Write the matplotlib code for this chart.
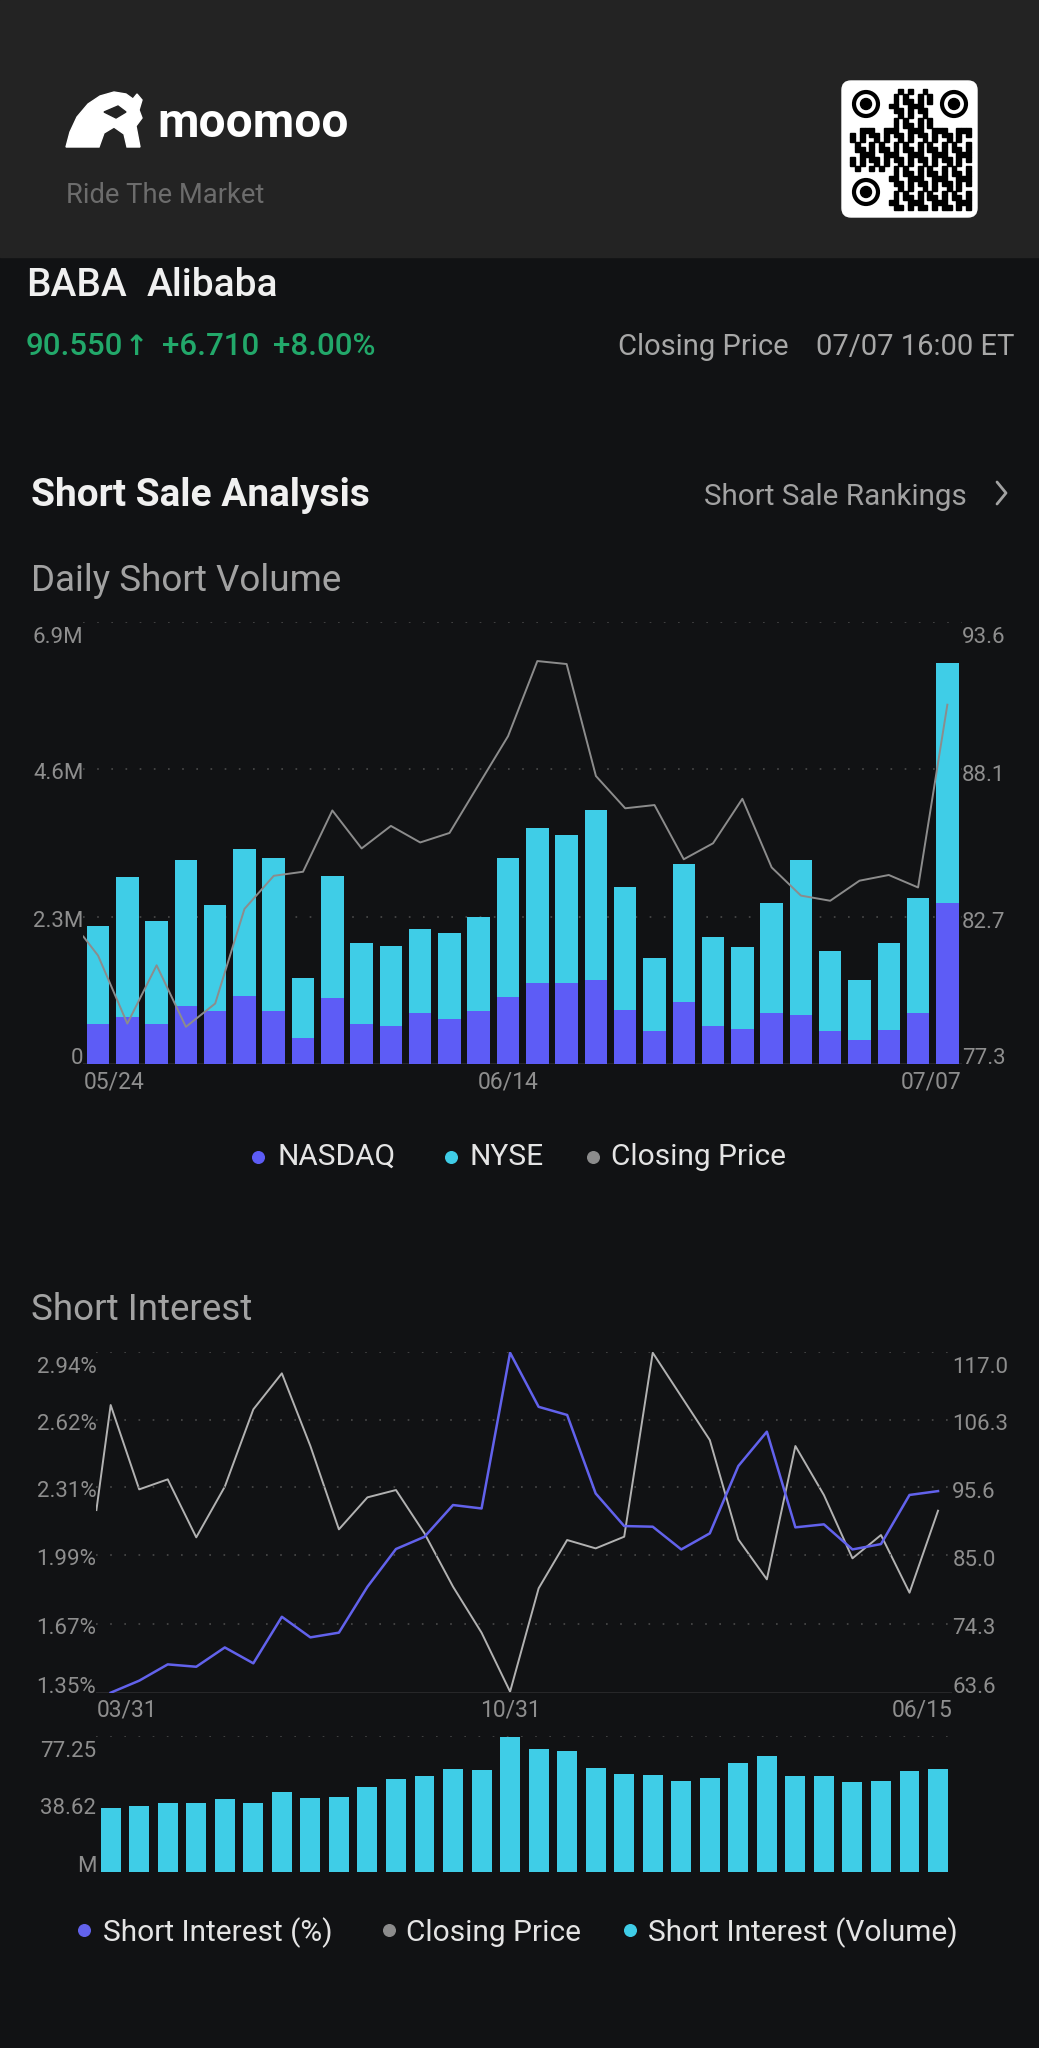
import numpy as np
import matplotlib
matplotlib.use('Agg')
import matplotlib.pyplot as plt
import matplotlib.transforms as mtransforms
from matplotlib.patches import FancyBboxPatch, Circle, Polygon, Rectangle

plt.rcParams['font.family'] = ['Roboto', 'DejaVu Sans']

# Daily short volume (million shares), 05/24 - 07/07
dsv_dates = ['05/24', '05/25', '05/26', '05/30', '05/31', '06/01', '06/02', '06/05', '06/06', '06/07',
             '06/08', '06/09', '06/12', '06/13', '06/14', '06/15', '06/16', '06/20', '06/21', '06/22',
             '06/23', '06/26', '06/27', '06/28', '06/29', '06/30', '07/03', '07/05', '07/06', '07/07']
nasdaq = [0.63, 0.73, 0.63, 0.91, 0.83, 1.06, 0.82, 0.41, 1.03, 0.63,
          0.59, 0.79, 0.71, 0.83, 1.04, 1.26, 1.27, 1.31, 0.85, 0.51,
          0.97, 0.59, 0.55, 0.79, 0.76, 0.52, 0.37, 0.53, 0.79, 2.52]
nyse = [1.53, 2.19, 1.60, 2.27, 1.65, 2.30, 2.39, 0.94, 1.91, 1.26,
        1.25, 1.31, 1.33, 1.46, 2.18, 2.42, 2.30, 2.65, 1.91, 1.15,
        2.15, 1.40, 1.27, 1.73, 2.43, 1.24, 0.94, 1.36, 1.80, 3.74]
dsv_close_prev = 82.0
dsv_close = [81.30, 78.79, 80.94, 78.67, 79.53, 83.02, 84.24, 84.39, 86.65, 85.25,
             86.08, 85.47, 85.82, 87.61, 89.39, 92.16, 92.05, 87.92, 86.73, 86.85,
             84.85, 85.44, 87.08, 84.55, 83.51, 83.32, 84.06, 84.27, 83.81, 90.55]
vol_ticks = [0, 2.3, 4.6, 6.9]
vol_labels = ['0', '2.3M', '4.6M', '6.9M']
dsv_price_ticks = [77.3, 82.7, 88.1, 93.6]
dsv_price_labels = ['77.3', '82.7', '88.1', '93.6']
dsv_xlabels = ['05/24', '06/14', '07/07']

# Short interest, semi-monthly 03/31 - 06/15
si_dates = ['03/31', '04/14', '04/29', '05/13', '05/31', '06/15', '06/30', '07/15', '07/29', '08/15',
            '08/31', '09/15', '09/30', '10/14', '10/31', '11/15', '11/30', '12/15', '12/30', '01/13',
            '01/31', '02/15', '02/28', '03/15', '03/31', '04/14', '04/28', '05/15', '05/31', '06/15']
si_pct = [1.350, 1.406, 1.482, 1.471, 1.561, 1.487, 1.704, 1.608, 1.630, 1.844,
          2.020, 2.077, 2.225, 2.209, 2.935, 2.683, 2.645, 2.279, 2.127, 2.124,
          2.018, 2.093, 2.407, 2.567, 2.121, 2.135, 2.018, 2.043, 2.272, 2.290]
si_close_prev = 92.2
si_close = [108.65, 95.44, 97.01, 87.93, 95.86, 107.97, 113.61, 102.23, 89.18, 94.19,
            95.34, 88.55, 80.20, 73.00, 63.76, 79.94, 87.51, 86.20, 88.03, 116.84,
            110.00, 103.17, 87.61, 81.35, 102.23, 94.55, 84.64, 88.29, 79.26, 92.10]
si_volume = [36.06, 37.39, 39.29, 38.91, 41.38, 39.29, 45.17, 42.14, 42.71, 48.40,
             52.77, 54.47, 58.27, 57.89, 76.49, 69.66, 68.71, 59.22, 55.42, 55.23,
             51.82, 53.52, 61.69, 66.05, 54.47, 54.66, 51.25, 51.82, 57.51, 58.27]
pct_ticks = [1.35, 1.67, 1.99, 2.31, 2.62, 2.94]
pct_labels = ['1.35%', '1.67%', '1.99%', '2.31%', '2.62%', '2.94%']
si_price_ticks = [63.6, 74.3, 85.0, 95.6, 106.3, 117.0]
si_price_labels = ['63.6', '74.3', '85.0', '95.6', '106.3', '117.0']
siv_ticks = [0, 38.62, 77.25]
siv_labels = ['M', '38.62', '77.25']
si_xlabels = ['03/31', '10/31', '06/15']

BG = '#111214'
HEADER_BG = '#232323'
TITLE = '#f0f0f0'
SUB = '#a2a2a2'
TICK = '#8e8e8e'
LEG = '#e4e4e4'
GREEN = '#22a86a'
PURPLE = '#5d5cf6'
CYAN = '#3fcde7'
GRID = '#4a4a4a'
BASE = '#2c2c2e'

W, H = 1039, 2048
fig = plt.figure(figsize=(W / 100, H / 100), dpi=100, facecolor=BG)

# overlay in pixel coordinates for header and texts
ov = fig.add_axes([0, 0, 1, 1])
ov.set_xlim(0, W)
ov.set_ylim(H, 0)
ov.set_autoscale_on(False)
ov.axis('off')

ov.add_patch(Rectangle((0, 0), W, 257, color=HEADER_BG, zorder=0))

# moomoo logo (rough bull shape)
bull = [(66, 147), (70, 132), (77, 117), (88, 104), (100, 96), (114, 92), (126, 94), (133, 99),
        (137, 94), (142, 100), (139, 110), (142, 118), (136, 126), (140, 147), (127, 147),
        (124, 134), (114, 127), (104, 133), (99, 147)]
ov.add_patch(Polygon(bull, closed=True, color='white', zorder=2))
ov.add_patch(Polygon([(104, 112), (118, 106), (126, 112), (116, 118)], closed=True, color=HEADER_BG, zorder=3))
ov.text(157, 137, 'moomoo', fontsize=34.5, fontweight='bold', color='white', va='baseline')
ov.text(66, 203, 'Ride The Market', fontsize=19.7, color='#6c6c6c', va='baseline')

# QR code block
ov.add_patch(FancyBboxPatch((846, 85), 127, 128, boxstyle='round,pad=4,rounding_size=9',
                            color='white', zorder=2))
n_mod = 25
msz = 121 / n_mod
for i in range(n_mod):
    for j in range(n_mod):
        if (i < 8 and j < 8) or (i < 8 and j > 16) or (i > 16 and j < 8):
            continue
        if ((i * 7 + j * 3) * (i + 2 * j + 1)) % 5 < 2:
            ov.add_patch(Rectangle((850 + j * msz, 89 + i * msz), msz, msz, color='black', zorder=3))
for cx, cy in [(866, 104), (954, 104), (866, 192)]:
    ov.add_patch(Circle((cx, cy), 12, fill=False, lw=3, color='black', zorder=3))
    ov.add_patch(Circle((cx, cy), 5.5, color='black', zorder=3))

# quote line
ov.text(26, 296, 'BABA', fontsize=28, fontweight='medium', color=TITLE, va='baseline')
ov.text(147, 296, 'Alibaba', fontsize=28, fontweight='medium', color=TITLE, va='baseline')
ov.text(26, 355, '90.550', fontsize=22.5, fontweight='medium', color=GREEN, va='baseline')
ov.text(125, 355, '\u2191', fontsize=20, fontweight='bold', color=GREEN, va='baseline',
        family=['DejaVu Sans'])
ov.text(162, 355, '+6.710', fontsize=22.5, fontweight='medium', color=GREEN, va='baseline')
ov.text(273, 355, '+8.00%', fontsize=22.5, fontweight='medium', color=GREEN, va='baseline')
ov.text(618, 355, 'Closing Price', fontsize=21, color='#a8a8a8', va='baseline')
ov.text(1014, 355, '07/07 16:00 ET', fontsize=21, color='#a8a8a8', va='baseline', ha='right')

ov.text(31, 506, 'Short Sale Analysis', fontsize=28, fontweight='bold', color=TITLE, va='baseline')
ov.text(704, 505, 'Short Sale Rankings', fontsize=21.3, color=SUB, va='baseline')
ov.plot([997, 1006, 997], [482, 493, 504], color=SUB, lw=2, solid_capstyle='round')
ov.text(31, 591, 'Daily Short Volume', fontsize=26.5, color=SUB, va='baseline')
ov.text(31, 1320, 'Short Interest', fontsize=26.5, color=SUB, va='baseline')


def chart_axes(left, top, right, bottom):
    ax = fig.add_axes([left / W, 1 - bottom / H, (right - left) / W, (bottom - top) / H])
    ax.set_facecolor('none')
    for s in ax.spines.values():
        s.set_visible(False)
    ax.set_xticks([])
    ax.set_yticks([])
    return ax


def shift(ax, base, dx, dy):
    return base + mtransforms.ScaledTranslation(dx / 100, -dy / 100, fig.dpi_scale_trans)


def ylabels(ax, ticks, labels, side):
    n = len(ticks)
    tr0 = mtransforms.blended_transform_factory(ax.transAxes, ax.transData)
    for k, (v, s) in enumerate(zip(ticks, labels)):
        dy = 0 if k == 0 else (21 if k == n - 1 else 10)
        if side == 'left':
            ax.text(0, v, s, transform=shift(ax, tr0, 0, dy), ha='right', va='baseline',
                    fontsize=16, color=TICK)
        else:
            ax.text(1, v, s, transform=shift(ax, tr0, 0, dy), ha='left', va='baseline',
                    fontsize=16, color=TICK)


def xlabels(ax, dates, labels, dy):
    tr0 = mtransforms.blended_transform_factory(ax.transData, ax.transAxes)
    lo, hi = ax.get_xlim()
    for k, s in enumerate(labels):
        if k == 0:
            ax.text(lo, 0, s, transform=shift(ax, tr0, 0, dy), ha='left', va='baseline', fontsize=16.5, color=TICK)
        elif k == len(labels) - 1:
            ax.text(hi, 0, s, transform=shift(ax, tr0, 0, dy), ha='right', va='baseline', fontsize=16.5, color=TICK)
        else:
            ax.text(dates.index(s), 0, s, transform=shift(ax, tr0, 0, dy), ha='center', va='baseline',
                    fontsize=16.5, color=TICK)


def grid(ax, ticks):
    for v in ticks[1:]:
        ax.axhline(v, color=GRID, lw=1.2, linestyle=(0, (1, 7.5)), zorder=0)
    ax.axhline(ticks[0], color=BASE, lw=1.2, zorder=0)


# ---- Daily short volume chart
x1 = np.arange(len(dsv_dates))
ax1 = chart_axes(83.4, 622, 962, 1064)
ax1.set_xlim(-0.5, len(dsv_dates) - 0.5)
ax1.set_ylim(vol_ticks[0], vol_ticks[-1])
grid(ax1, vol_ticks)
ax1.bar(x1, nasdaq, width=0.77, color=PURPLE, zorder=2)
ax1.bar(x1, nyse, bottom=nasdaq, width=0.77, color=CYAN, zorder=2)
ylabels(ax1, vol_ticks, vol_labels, 'left')
xlabels(ax1, dsv_dates, dsv_xlabels, 25)

ax1p = ax1.twinx()
ax1p.set_facecolor('none')
for s in ax1p.spines.values():
    s.set_visible(False)
ax1p.set_yticks([])
ax1p.set_ylim(dsv_price_ticks[0], dsv_price_ticks[-1])
ax1p.plot(np.r_[-0.5, x1], [dsv_close_prev] + dsv_close, color='#8c8c8c', lw=1.4, zorder=3)
ylabels(ax1p, dsv_price_ticks, dsv_price_labels, 'right')

for xd, xt, col, lab in [(258, 278, PURPLE, 'NASDAQ'), (451, 469, CYAN, 'NYSE'),
                         (593, 611, '#8c8c8c', 'Closing Price')]:
    ov.scatter([xd], [1157], s=70, color=col, zorder=5)
    ov.text(xt, 1165, lab, fontsize=21.5, color=LEG, va='baseline')

# ---- Short interest chart
x2 = np.arange(len(si_dates))
ax2 = chart_axes(96.4, 1351.7, 952.3, 1692.7)
ax2.set_xlim(-0.5, len(si_dates) - 0.5)
ax2.set_ylim(pct_ticks[0], pct_ticks[-1])
grid(ax2, pct_ticks)
ax2.plot(x2, si_pct, color='#6262ec', lw=1.8, zorder=4)
ylabels(ax2, pct_ticks, pct_labels, 'left')
xlabels(ax2, si_dates, si_xlabels, 24)

ax2p = ax2.twinx()
ax2p.set_facecolor('none')
for s in ax2p.spines.values():
    s.set_visible(False)
ax2p.set_yticks([])
ax2p.set_ylim(si_price_ticks[0], si_price_ticks[-1])
ax2p.plot(np.r_[-0.5, x2], [si_close_prev] + si_close, color='#b2b2b2', lw=1.4, zorder=2)
ax2.set_zorder(ax2p.get_zorder() + 1)
ylabels(ax2p, si_price_ticks, si_price_labels, 'right')

# ---- Short interest volume bars
ax3 = chart_axes(96.4, 1736, 952.3, 1871.7)
ax3.set_xlim(-0.5, len(si_dates) - 0.5)
ax3.set_ylim(siv_ticks[0], siv_ticks[-1])
ax3.axhline(siv_ticks[-1], color=GRID, lw=1.2, linestyle=(0, (1, 7.5)), zorder=0)
ax3.bar(x2, si_volume, width=0.70, color=CYAN, zorder=2)
ylabels(ax3, siv_ticks, siv_labels, 'left')

for xd, xt, col, lab in [(84, 103, '#6262ec', 'Short Interest (%)'), (389, 406, '#8c8c8c', 'Closing Price'),
                         (630, 648, CYAN, 'Short Interest (Volume)')]:
    ov.scatter([xd], [1930], s=70, color=col, zorder=5)
    ov.text(xt, 1941, lab, fontsize=21.5, color=LEG, va='baseline')

fig.savefig('out.png', dpi=100, facecolor=BG)
